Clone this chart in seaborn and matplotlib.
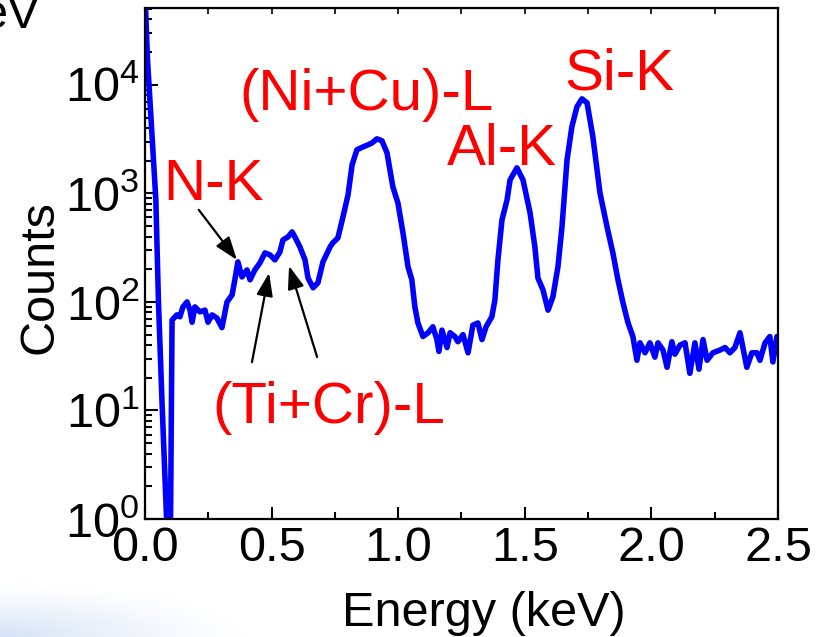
import numpy as np
import matplotlib
matplotlib.use("Agg")
import matplotlib.pyplot as plt
import seaborn as sns
from matplotlib.ticker import MultipleLocator

# EDS spectrum
energy = [0.0, 0.010, 0.024, 0.043, 0.053, 0.067, 0.087, 0.095, 0.100, 0.107,
          0.126, 0.138, 0.150, 0.166, 0.178, 0.186, 0.197, 0.217, 0.237, 0.249,
          0.265, 0.284, 0.304, 0.324, 0.344, 0.355, 0.367, 0.383, 0.403, 0.415,
          0.434, 0.454, 0.474, 0.494, 0.513, 0.533, 0.545, 0.565, 0.581, 0.592,
          0.612, 0.632, 0.644, 0.664, 0.683, 0.703, 0.731, 0.742, 0.762, 0.782,
          0.802, 0.818, 0.837, 0.861, 0.881, 0.897, 0.916, 0.936, 0.956, 0.979,
          0.999, 1.019, 1.039, 1.054, 1.066, 1.078, 1.098, 1.118, 1.137, 1.153,
          1.161, 1.173, 1.193, 1.205, 1.224, 1.236, 1.256, 1.276, 1.295, 1.315,
          1.331, 1.347, 1.370, 1.382, 1.394, 1.410, 1.430, 1.442, 1.469, 1.493,
          1.521, 1.540, 1.552, 1.572, 1.592, 1.611, 1.631, 1.647, 1.667, 1.686,
          1.706, 1.726, 1.746, 1.769, 1.797, 1.825, 1.848, 1.868, 1.888, 1.908,
          1.927, 1.943, 1.955, 1.975, 1.994, 2.014, 2.026, 2.046, 2.062, 2.081,
          2.093, 2.113, 2.133, 2.152, 2.172, 2.188, 2.204, 2.220, 2.243, 2.271,
          2.291, 2.310, 2.330, 2.350, 2.377, 2.397, 2.417, 2.429, 2.449, 2.468,
          2.480, 2.496]
counts = [70000, 17000, 4800, 870, 105, 12.5, 0.8, 0.3, 0.5, 68,
          76, 73, 90, 100, 84, 65, 90, 81, 84, 65,
          76, 71, 58, 100, 116, 160, 234, 170, 197, 160,
          197, 229, 283, 271, 244, 289, 373, 397, 442, 397,
          321, 244, 166, 135, 150, 234, 321, 350, 389, 607,
          968, 1830, 2520, 2680, 2800, 2920, 3180, 3050, 2360, 1150,
          817, 432, 210, 160, 90, 64, 48, 52, 59, 45,
          35, 55, 38, 52, 48, 43, 50, 34, 61, 64,
          45, 59, 73, 104, 244, 570, 871, 1330, 1720, 1330,
          661, 321, 166, 129, 84, 111, 210, 491, 2040, 4100,
          6270, 7430, 6830, 3320, 1010, 491, 283, 160, 98, 64,
          48, 29, 42, 34, 42, 31, 42, 36, 25, 43,
          33, 40, 42, 22, 42, 24, 45, 29, 34, 36,
          38, 34, 38, 52, 25, 34, 34, 29, 42, 48,
          28, 48]

peak_labels = ["N-K", "(Ni+Cu)-L", "Al-K", "Si-K", "(Ti+Cr)-L"]

sns.set_style("ticks")
plt.rcParams["font.family"] = ["Liberation Sans", "DejaVu Sans"]
plt.rcParams["mathtext.fontset"] = "custom"
plt.rcParams["mathtext.rm"] = "Liberation Sans"
for key in ["text.color", "axes.labelcolor", "xtick.color", "ytick.color", "axes.edgecolor"]:
    plt.rcParams[key] = "black"

fig = plt.figure(figsize=(8.27, 6.37), dpi=100)

# faint blue shading in the lower left corner
bg = fig.add_axes([0, 0, 0.4, 0.14], zorder=-5)
gx, gy = np.meshgrid(np.linspace(0, 1, 300), np.linspace(1, 0, 80))
fade = np.clip(1 - np.hypot(gx / 0.75, gy / 0.6), 0, 1) ** 1.3
rgba = np.zeros((80, 300, 4))
rgba[..., 0], rgba[..., 1], rgba[..., 2] = 0.78, 0.85, 0.95
rgba[..., 3] = 0.75 * fade
bg.imshow(rgba, aspect="auto", extent=[0, 1, 0, 1], origin="upper")
bg.axis("off")

ax = fig.add_axes([0.1753, 0.1852, 0.7654, 0.8022])
ax.set_yscale("log")
sns.lineplot(x=energy, y=counts, ax=ax, color="#0000ff", lw=4.0,
             estimator=None, sort=False)

ax.set_xlim(0, 2.5)
ax.set_ylim(1, 5.1e4)
ax.xaxis.set_major_locator(MultipleLocator(0.5))
ax.xaxis.set_minor_locator(MultipleLocator(0.25))
ax.xaxis.set_major_formatter(matplotlib.ticker.FormatStrFormatter("%.1f"))
ax.tick_params(which="both", direction="in", width=1.5, labelsize=35, colors="black")
ax.tick_params(which="major", length=9)
ax.tick_params(which="minor", length=5)
ax.tick_params(axis="x", pad=5)
ax.tick_params(axis="y", pad=4)
for s in ax.spines.values():
    s.set_linewidth(1.6)
    s.set_color("black")

top = ax.secondary_xaxis("top")
top.xaxis.set_major_locator(MultipleLocator(0.25))
top.tick_params(direction="in", length=4, width=1.2, labeltop=False)

ax.set_xlabel("Energy (keV)", fontsize=35, color="black")
ax.set_ylabel("Counts", fontsize=35, color="black")
ax.xaxis.set_label_coords(0.535, -0.14)
ax.yaxis.set_label_coords(-0.13, 0.474)

red = "#ff0000"
txt = dict(transform=ax.transAxes, color=red, fontsize=42, ha="center", va="baseline")
ax.text(0.109, 0.624, peak_labels[0], **txt)
ax.text(0.350, 0.800, peak_labels[1], **txt)
ax.text(0.564, 0.693, peak_labels[2], **txt)
ax.text(0.750, 0.840, peak_labels[3], **txt)
ax.text(0.290, 0.188, peak_labels[4], **txt)

arrow = dict(arrowstyle="-|>,head_length=0.7,head_width=0.25", color="black",
             lw=1.6, shrinkA=0, shrinkB=0, mutation_scale=20)
ax.annotate("", xy=(0.363, 244), xycoords="data", xytext=(0.085, 0.605),
            textcoords="axes fraction", arrowprops=arrow)
ax.annotate("", xy=(0.490, 185), xycoords="data", xytext=(0.169, 0.307),
            textcoords="axes fraction", arrowprops=arrow)
ax.annotate("", xy=(0.569, 215), xycoords="data", xytext=(0.272, 0.317),
            textcoords="axes fraction", arrowprops=arrow)

# clipped label from a neighbouring panel
fig.text(40 / 827, 1 - 28 / 637, "eV", ha="right", va="baseline", fontsize=35)

fig.savefig("out.png", dpi=100)
